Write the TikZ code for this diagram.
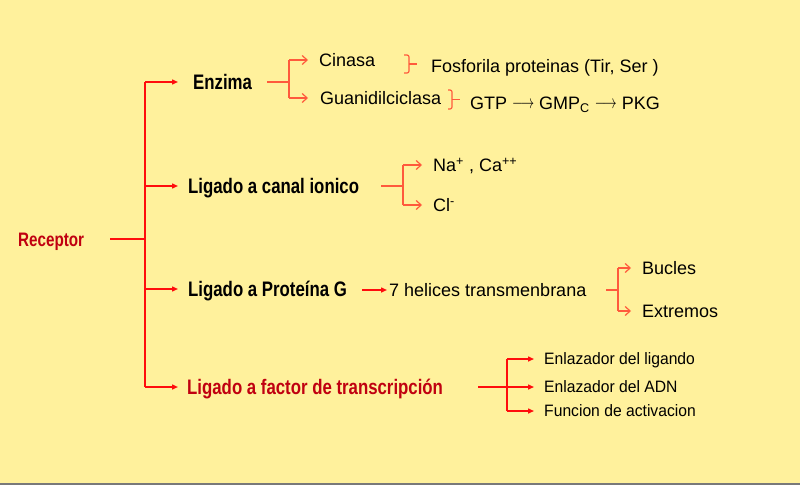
\documentclass[tikz,border=0pt]{standalone}
\usepackage{fontspec}
\usepackage{graphicx}
\setmainfont{Liberation Sans}
\newfontfamily\condb{Liberation Sans}[FakeStretch=0.8]
\newfontfamily\condr{Liberation Sans}[FakeStretch=0.78]
\newfontfamily\smallc{Liberation Sans}[FakeStretch=0.95]
\usetikzlibrary{arrows.meta}
\definecolor{bg}{HTML}{FFF19C}
\definecolor{lred}{HTML}{FF0D0D}
\definecolor{ored}{HTML}{FF5A3C}
\definecolor{dred}{HTML}{C00010}
\newcommand{\myarr}{\resizebox{22pt}{7pt}{$\longrightarrow$}}
\tikzset{
  lab/.style={anchor=west,inner sep=0pt,text height=12.9pt,text depth=0pt,font=\fontsize{18}{20}\selectfont},
  bold/.style={anchor=west,inner sep=0pt,text height=15pt,text depth=0pt,font=\condb\bfseries\fontsize{21}{24}\selectfont},
  small/.style={anchor=west,inner sep=0pt,text height=11.8pt,text depth=0pt,font=\smallc\fontsize{16.5}{18}\selectfont},
  trunk/.style={draw=lred,line width=1.4pt},
  fa/.style={trunk,-{Triangle[length=6pt,width=5pt]}},
  oa/.style={draw=ored,line width=1.2pt,-{Straight Barb[length=5pt,width=9pt]}},
  ol/.style={draw=ored,line width=1.2pt},
  brc/.style={draw=ored,line width=1.2pt,rounded corners=2pt}
}
\begin{document}
\begin{tikzpicture}[x=1pt,y=-1pt]
\fill[bg] (0,0) rectangle (800,485);
\fill[gray!95!black] (0,483) rectangle (800,485);
% nodes
\node[anchor=west,inner sep=0pt,text height=14pt,text depth=0pt,font=\condr\bfseries\fontsize{19.5}{22}\selectfont,text=dred] (rec) at (18,239) {Receptor};
\node[bold] (enz) at (193,82) {Enzima};
\node[bold] (can) at (188,186) {Ligado a canal ionico};
\node[bold] (prot) at (188,289) {Ligado a Proteína G};
\node[bold,text=dred] (fac) at (187,387) {Ligado a factor de transcripción};
\node[lab] (cin) at (319,60) {Cinasa};
\node[lab] (gua) at (320,98) {Guanidilciclasa};
\node[lab] (fos) at (431,66) {Fosforila proteinas (Tir, Ser )};
\node[lab] (gtp) at (470,103) {GTP \raisebox{0.5pt}{\myarr} GMP\textsubscript{C} \raisebox{0.5pt}{\myarr} PKG};
\node[lab] (na) at (433,165) {Na\textsuperscript{+} , Ca\textsuperscript{++}};
\node[lab] (cl) at (433,205) {Cl\textsuperscript{-}};
\node[lab] (hel) at (389,290) {7 helices transmenbrana};
\node[lab] (buc) at (642,268) {Bucles};
\node[lab] (ext) at (642,311) {Extremos};
\node[small] (en1) at (544,359) {Enlazador del ligando};
\node[small] (en2) at (544,387) {Enlazador del ADN};
\node[small] (fun) at (544,411) {Funcion de activacion};
% junctions
\coordinate (s0) at (110,239);
\coordinate (j0) at (145,239);
\coordinate (sE) at (267,82);
\coordinate (jE) at (289,82);
\coordinate (sC) at (381,186);
\coordinate (jC) at (403,186);
\coordinate (sP) at (362,290);
\coordinate (sH) at (606,290);
\coordinate (jH) at (618,290);
\coordinate (sF) at (478,387);
\coordinate (jF) at (507,387);
\coordinate (tip) at (178,0);
% main tree
\draw[trunk] (s0) -- (j0);
\draw[trunk] (j0 |- enz.west) -- (j0 |- fac.west);
\draw[fa] (j0 |- enz.west) -- (tip |- enz.west);
\draw[fa] (j0 |- can.west) -- (tip |- can.west);
\draw[fa] (j0 |- prot.west) -- (tip |- prot.west);
\draw[fa] (j0 |- fac.west) -- (tip |- fac.west);
% enzima
\draw[ol] (sE) -- (jE);
\draw[ol] (jE |- cin.west) -- (jE |- gua.west);
\draw[oa] (jE |- cin.west) -- ([xshift=-11pt]cin.west);
\draw[oa] (jE |- gua.west) -- ([xshift=-12pt]gua.west);
% braces
\draw[brc] (404,55) -| (409,64) |- (404,73);
\draw[ol] (409,64) -- (417,64);
\draw[brc] (448,90) -| (452,99.5) |- (448,109);
\draw[ol] (452,99.5) -- (460,99.5);
% canal
\draw[ol] (sC) -- (jC);
\draw[ol] (jC |- na.west) -- (jC |- cl.west);
\draw[oa] (jC |- na.west) -- ([xshift=-11pt]na.west);
\draw[oa] (jC |- cl.west) -- ([xshift=-11pt]cl.west);
% proteina G
\draw[fa] (sP) -- ([xshift=-2pt]hel.west);
\draw[ol] (sH) -- (jH);
\draw[ol] (jH |- buc.west) -- (jH |- ext.west);
\draw[oa] (jH |- buc.west) -- ([xshift=-11pt]buc.west);
\draw[oa] (jH |- ext.west) -- ([xshift=-11pt]ext.west);
% factor
\draw[draw=lred,line width=2.6pt] (sF) -- (jF);
\draw[trunk] (jF |- en1.west) -- (jF |- fun.west);
\draw[fa] (jF |- en1.west) -- ([xshift=-10pt]en1.west);
\draw[fa] (jF) -- ([xshift=-10pt]en2.west);
\draw[fa] (jF |- fun.west) -- ([xshift=-10pt]fun.west);
\end{tikzpicture}
\end{document}
